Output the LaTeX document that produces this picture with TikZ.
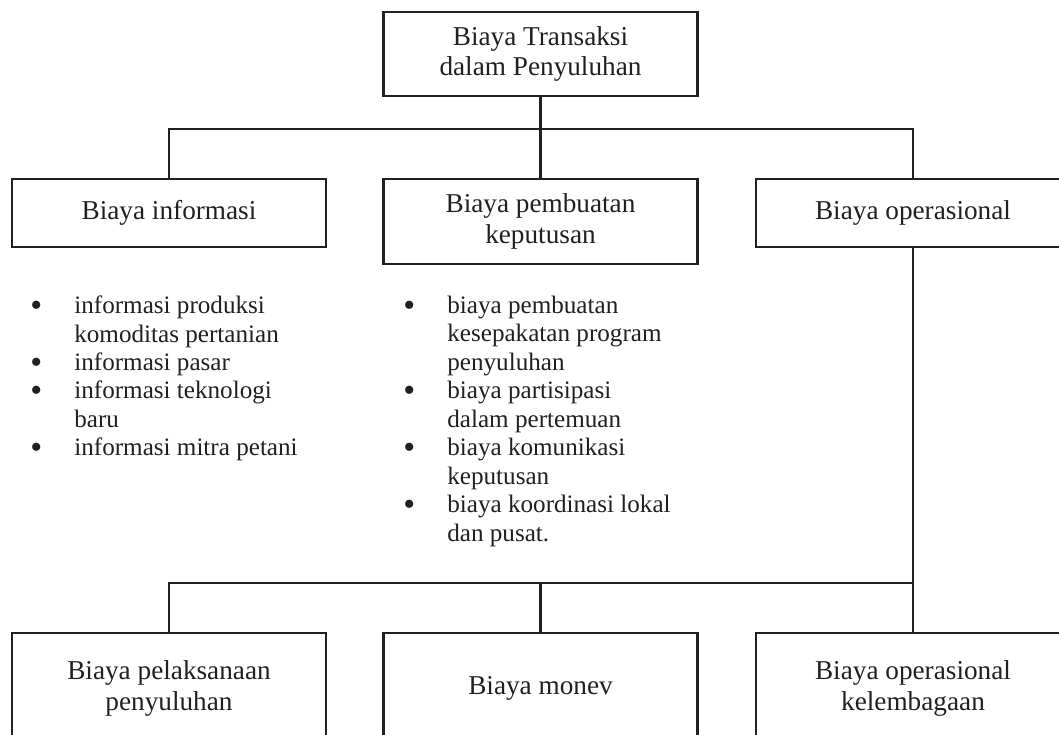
\documentclass[tikz,border=0pt]{standalone}
\usepackage{fontspec}
\setmainfont{Liberation Serif}
\definecolor{ink}{HTML}{231F20}
\newcommand{\lbul}{\makebox[0.88cm][l]{\raisebox{-0.25ex}{\scalebox{1.35}{\textbullet}}}}
\newcommand{\lind}{\hspace*{0.88cm}}
\begin{document}
\begin{tikzpicture}[x=1cm,y=1cm,
  box/.style={draw=ink,text=ink,line width=1.4pt,minimum width=6.28cm,inner sep=0pt,outer sep=0pt,align=center,font=\fontsize{15.5}{17.5}\selectfont},
  items/.style={text=ink,anchor=north west,inner sep=0pt,align=left,font=\fontsize{14.3}{16.2}\selectfont},
  link/.style={draw=ink,line width=1.4pt}]
\clip (0,0) rectangle (21.18,14.68);
% top
\node[box,minimum height=1.68cm] (top) at (10.81,13.60) {Biaya Transaksi\\dalam Penyuluhan};
% second row
\node[box,minimum height=1.36cm] (info) at (3.38,10.42) {Biaya informasi};
\node[box,minimum height=1.70cm] (decide) at (10.81,10.25) {Biaya pembuatan\\keputusan};
\node[box,minimum height=1.36cm] (ops) at (18.26,10.42) {Biaya operasional};
% lists
\node[items] (infolist) at (0.60,8.77) {\lbul informasi produksi\\ \lind komoditas pertanian\\ \lbul informasi pasar\\ \lbul informasi teknologi\\ \lind baru\\ \lbul informasi mitra petani};
\node[items] (decidelist) at (8.06,8.77) {\lbul biaya pembuatan\\ \lind kesepakatan program\\ \lind penyuluhan\\ \lbul biaya partisipasi\\ \lind dalam pertemuan\\ \lbul biaya komunikasi\\ \lind keputusan\\ \lbul biaya koordinasi lokal\\ \lind dan pusat.};
% bottom row
\node[box,minimum height=2.22cm] (exec) at (3.38,0.91) {Biaya pelaksanaan\\penyuluhan};
\node[box,minimum height=2.22cm] (monev) at (10.81,0.91) {Biaya monev};
\node[box,minimum height=2.22cm] (inst) at (18.26,0.91) {Biaya operasional\\kelembagaan};
% connectors
\draw[link] (top) -- (decide);
\draw[link] (info.north) -- ++(0,1) -| (ops.north);
\draw[link] (ops) -- (inst);
\draw[link] (exec.north) -- ++(0,1) -| (inst.north);
\draw[link] (monev.north) -- ++(0,1);
\end{tikzpicture}
\end{document}
